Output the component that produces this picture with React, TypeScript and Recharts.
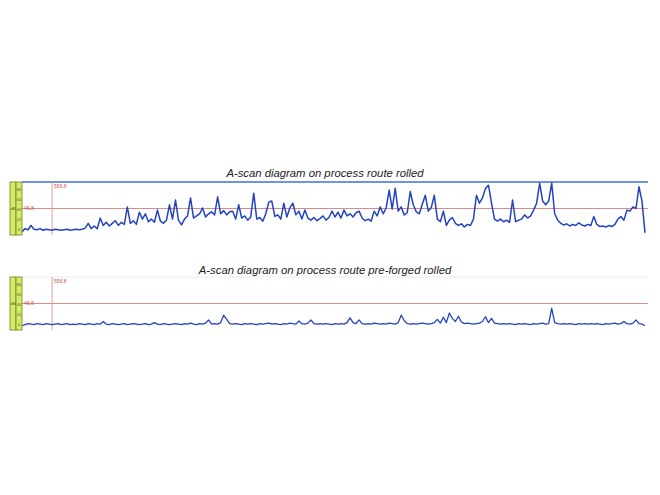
import React from "react";
import { LineChart, Line, XAxis, YAxis, ReferenceLine } from "recharts";

const titleRolled = "A-scan diagram on process route rolled";
const titlePreForged = "A-scan diagram on process route pre-forged rolled";
const gateLabel = "556.8";
const thresholdLabel = "46.8";
const thresholdValue = 50;
const gatePosition = 10;
const stripTicks = ["0", "20", "40", "60", "80"];

const rolledAmplitude = [
  6, 12, 10, 18, 11, 10, 12, 9, 11, 10,
  9, 11, 10, 9, 10, 11, 9, 10, 11, 10,
  11, 13, 22, 12, 17, 12, 32, 18, 24, 17,
  22, 27, 18, 24, 20, 53, 22, 27, 20, 43,
  30, 40, 25, 30, 24, 47, 26, 22, 28, 57,
  30, 66, 28, 19, 30, 36, 70, 32, 36, 40,
  51, 34, 40, 44, 38, 72, 40, 46, 38, 44,
  45, 30, 57, 32, 36, 28, 34, 79, 30, 33,
  26, 40, 62, 64, 35, 38, 30, 60, 34, 51,
  60, 38, 45, 30, 47, 32, 28, 33, 27, 31,
  36, 28, 33, 45, 34, 43, 32, 47, 36, 40,
  34, 42, 45, 32, 27, 30, 26, 45, 36, 53,
  40, 51, 85, 49, 88, 45, 53, 38, 42, 82,
  57, 44, 40, 58, 75, 45, 52, 75, 30, 25,
  45, 18, 28, 33, 22, 18, 21, 15, 20, 18,
  30, 75, 60, 70, 88, 94, 60, 30, 26, 30,
  25, 28, 24, 66, 25, 28, 30, 38, 32, 36,
  47, 60, 98, 64, 57, 64, 98, 40, 28, 22,
  19, 21, 17, 20, 18, 23, 19, 17, 20, 18,
  35, 20, 16, 17, 15, 18, 16, 20, 30, 35,
  28, 47, 45, 53, 50, 91, 64, 4,
];

const preForgedAmplitude = [
  8, 10, 12, 11, 10, 12, 11, 10, 12, 11,
  10, 11, 12, 10, 11, 12, 10, 11, 10, 12,
  11, 10, 12, 11, 10, 12, 11, 16, 11, 10,
  12, 11, 10, 11, 12, 10, 11, 12, 11, 10,
  11, 12, 10, 11, 14, 11, 10, 12, 11, 10,
  11, 12, 11, 10, 12, 11, 13, 11, 10, 12,
  11, 13, 19, 11, 12, 11, 14, 28, 20, 12,
  11, 12, 11, 10, 12, 11, 12, 11, 10, 12,
  11, 12, 13, 11, 12, 11, 10, 12, 11, 13,
  12, 11, 17, 12, 11, 13, 19, 12, 11, 12,
  11, 12, 11, 10, 12, 11, 12, 11, 14, 23,
  14, 12, 19, 12, 11, 12, 11, 13, 12, 11,
  12, 11, 13, 12, 11, 14, 28, 18, 12, 11,
  12, 11, 12, 13, 12, 11, 12, 14, 20, 13,
  24, 14, 32, 22, 16, 26, 15, 12, 13, 12,
  11, 12, 13, 16, 25, 14, 22, 13, 12, 11,
  12, 11, 12, 11, 10, 12, 11, 12, 11, 10,
  12, 11, 12, 13, 11, 12, 41, 14, 12, 11,
  12, 11, 12, 11, 10, 12, 11, 12, 11, 12,
  11, 12, 11, 10, 12, 11, 12, 13, 11, 12,
  16, 12, 11, 13, 19, 12, 11, 8,
];

const toRows = (values: number[]) => values.map((v, i) => ({ pos: i, amp: v }));

const GateLabel = (props: any) => {
  const vb = props.viewBox || {};
  return (
    <text x={(vb.x || 0) + 2} y={(vb.y || 0) + 6} fontSize={5} fill="#d05050" fontFamily="Arial, Liberation Sans, sans-serif">
      {gateLabel}
    </text>
  );
};

const ThresholdLabel = (props: any) => {
  const vb = props.viewBox || {};
  return (
    <text x={(vb.x || 0) + 2} y={(vb.y || 0) + 1.5} fontSize={5} fill="#d05050" fontFamily="Arial, Liberation Sans, sans-serif">
      {thresholdLabel}
    </text>
  );
};

const Strip = ({ top }: { top: number }) => (
  <svg width={14} height={55} style={{ position: "absolute", left: 9, top: top - 1 }}>
    <rect x={1} y={1} width={6} height={53} fill="#d3ec63" stroke="#6f7f2c" strokeWidth={0.8} />
    <rect x={7} y={1} width={6} height={53} fill="#d3ec63" stroke="#6f7f2c" strokeWidth={0.8} />
    <text x={4} y={29} fontSize={4} fill="#4a5a20" textAnchor="middle" fontFamily="Arial, sans-serif">dB</text>
    {stripTicks.map((t, k) => (
      <text key={t} x={10} y={50 - k * 10} fontSize={4} fill="#4a5a20" textAnchor="middle" fontFamily="Arial, sans-serif">
        {t}
      </text>
    ))}
  </svg>
);

const Panel = ({ data, top, topLine, width }: { data: number[]; top: number; topLine: string; width: number }) => (
  <div style={{ position: "absolute", left: 0, top: top - 10 }}>
    <LineChart width={660} height={70} data={toRows(data)} margin={{ top: 10, right: 12, bottom: 7, left: 22 }}>
      <XAxis dataKey="pos" type="number" domain={[0, 208]} hide />
      <YAxis type="number" domain={[0, 100]} hide allowDataOverflow />
      <ReferenceLine y={100} stroke={topLine} strokeWidth={topLine === "#3f6fd0" ? 1.6 : 1} />
      <ReferenceLine y={thresholdValue} stroke="#d98a8a" strokeWidth={1} label={<ThresholdLabel />} />
      <ReferenceLine x={gatePosition} stroke="#d9a0a0" strokeWidth={1} label={<GateLabel />} />
      <Line
        type="linear"
        dataKey="amp"
        stroke="#2343c0"
        strokeWidth={width}
        strokeLinejoin="round"
        dot={false}
        isAnimationActive={false}
      />
    </LineChart>
    <Strip top={10} />
  </div>
);

const titleStyle: React.CSSProperties = {
  position: "absolute",
  left: 0,
  width: 650,
  textAlign: "center",
  fontFamily: "Arial, 'Liberation Sans', sans-serif",
  fontStyle: "italic",
  fontSize: 11.3,
  color: "#222",
  lineHeight: "12px",
};

export default function App() {
  return (
    <div style={{ position: "absolute", left: 0, top: 0, width: 660, height: 495, background: "#fff", overflow: "hidden" }}>
      <div style={{ ...titleStyle, top: 167 }}>{titleRolled}</div>
      <Panel data={rolledAmplitude} top={182} topLine="#3f6fd0" width={1.5} />
      <div style={{ ...titleStyle, top: 264 }}>{titlePreForged}</div>
      <Panel data={preForgedAmplitude} top={277} topLine="#ececec" width={1.3} />
    </div>
  );
}
